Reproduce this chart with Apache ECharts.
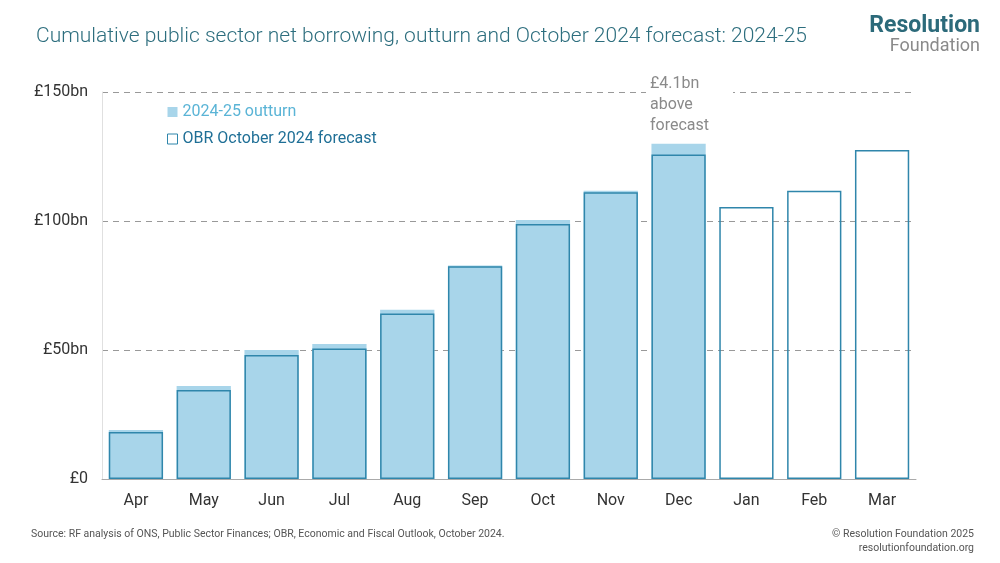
<!DOCTYPE html>
<html><head><meta charset="utf-8">
<script src="https://cdn.jsdelivr.net/npm/echarts@6/dist/echarts.min.js"></script>
<style>html,body{margin:0;padding:0;background:#fff}#c{width:1000px;height:563px}</style>
</head><body><div id="c"></div>
<script>
const months = ['Apr','May','Jun','Jul','Aug','Sep','Oct','Nov','Dec','Jan','Feb','Mar'];
const outturn = [19.0, 36.0, 50.0, 52.3, 65.6, 82.8, 100.4, 111.7, 129.9, null, null, null];
const forecast = [18.2, 34.5, 48.1, 50.6, 64.1, 82.5, 98.8, 111.1, 125.8, 105.4, 111.7, 127.5];
const yTicks = {0:'£0', 50:'£50bn', 100:'£100bn', 150:'£150bn'};
const FONT = 'Roboto';
const chart = echarts.init(document.getElementById('c'), null, {renderer:'canvas'});
chart.setOption({
  animation:false,
  textStyle:{fontFamily:FONT},
  title:{text:'Cumulative public sector net borrowing, outturn and October 2024 forecast: 2024-25',
    left:31, top:21, textStyle:{fontFamily:FONT, fontWeight:300, fontSize:21, color:'#2d6e7e'}},
  grid:{left:102, right:84, top:92, bottom:84},
  legend:{orient:'vertical', left:162, top:99, itemWidth:10, itemHeight:10, itemGap:11, itemStyle:{borderWidth:1},
    data:[
      {name:'2024-25 outturn', icon:'rect', textStyle:{color:'#5ab4d6', fontSize:16, fontFamily:FONT}},
      {name:'OBR October 2024 forecast', icon:'rect', textStyle:{color:'#1f6f96', fontSize:16, fontFamily:FONT}}
    ]},
  xAxis:{type:'category', data:months,
    axisLine:{lineStyle:{color:'#aaaaaa'}}, axisTick:{show:false},
    axisLabel:{color:'#333', fontSize:16, margin:14, fontFamily:FONT}},
  yAxis:{type:'value', min:0, max:150, interval:50,
    axisLine:{show:true, lineStyle:{color:'#e0e0e0'}}, axisTick:{show:false},
    axisLabel:{color:'#333', fontSize:16, margin:14, fontFamily:FONT, formatter:v=>yTicks[v]},
    splitLine:{lineStyle:{type:[6,5], color:'#999', width:1}}},
  series:[
    {name:'2024-25 outturn', type:'bar', data:outturn, barWidth:'80%', barGap:'-100%',
      itemStyle:{color:'#a8d5ea', borderWidth:0}, z:2},
    {name:'OBR October 2024 forecast', type:'bar', data:forecast, barWidth:'80%', barGap:'-100%',
      itemStyle:{color:'rgba(0,0,0,0)', borderColor:'#2f86ab', borderWidth:1.5}, z:3}
  ],
  graphic:[
    {type:'text', left:646, top:73, z:10, style:{text:'£4.1bn\nabove\nforecast', fill:'#8a8a8a', font:'16px Roboto', lineHeight:21, backgroundColor:'#fff', padding:[0,24,0,4]}},
    {type:'text', right:20, top:15, style:{text:'Resolution', fill:'#2c6a7a', font:'bold 23px Roboto'}},
    {type:'text', right:20, top:37, style:{text:'Foundation', fill:'#8a8a8a', font:'18px Roboto'}},
    {type:'text', left:31, top:529, style:{text:'Source: RF analysis of ONS, Public Sector Finances; OBR, Economic and Fiscal Outlook, October 2024.', fill:'#555', font:'10.5px Roboto'}},
    {type:'text', right:26, top:529, style:{text:'© Resolution Foundation 2025', fill:'#555', font:'10.5px Roboto'}},
    {type:'text', right:26, top:543, style:{text:'resolutionfoundation.org', fill:'#555', font:'10.5px Roboto'}}
  ]
});
</script></body></html>
